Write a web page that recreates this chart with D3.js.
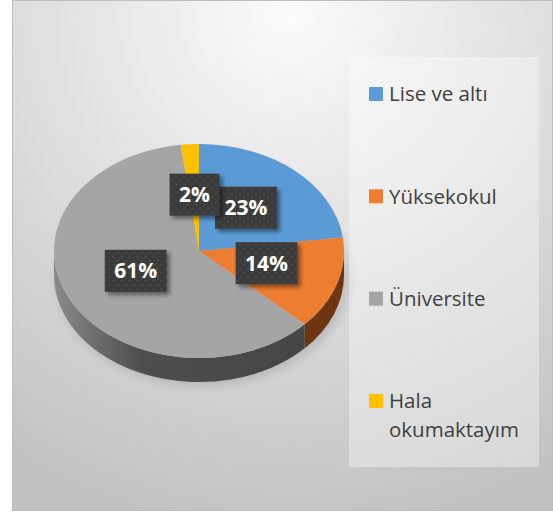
<!DOCTYPE html>
<html>
<head>
<meta charset="utf-8">
<script src="https://cdn.jsdelivr.net/npm/d3@7"></script>
<style>
  body { margin: 0; background: #fff; }
  svg { display: block; }
</style>
</head>
<body>
<div id="chart"></div>
<script>
// data
var categories = ["Lise ve altı", "Yüksekokul", "Üniversite", "Hala okumaktayım"];
var values = [23, 14, 61, 2];
var labels = ["23%", "14%", "61%", "2%"];
var colors = ["#5b9bd5", "#ed7d31", "#a5a5a5", "#ffc000"];
var sideColors = ["#2f5f8c", "#6e3510", "#555555", "#9a7400"];

var W = 553, H = 512;
var cx = 199, cy = 251, rx = 145, ry = 107, depth = 24;

var svg = d3.select("#chart").append("svg")
    .attr("width", W)
    .attr("height", H);

var defs = svg.append("defs");

// background gradient
var bg = defs.append("radialGradient")
    .attr("id", "bg")
    .attr("gradientUnits", "userSpaceOnUse")
    .attr("cx", 290).attr("cy", 10).attr("r", 520);
bg.append("stop").attr("offset", "0%").attr("stop-color", "#fbfbfb");
bg.append("stop").attr("offset", "100%").attr("stop-color", "#c2c2c2");

// gray side gradient
var sg = defs.append("linearGradient")
    .attr("id", "side")
    .attr("gradientUnits", "userSpaceOnUse")
    .attr("x1", cx - rx).attr("x2", cx + rx).attr("y1", 0).attr("y2", 0);
sg.append("stop").attr("offset", "0%").attr("stop-color", "#8a8a8a");
sg.append("stop").attr("offset", "30%").attr("stop-color", "#4e4e4e");
sg.append("stop").attr("offset", "100%").attr("stop-color", "#434343");

// dotted texture for the label boxes
var pat = defs.append("pattern")
    .attr("id", "dots")
    .attr("width", 8).attr("height", 8)
    .attr("patternUnits", "userSpaceOnUse");
pat.append("rect").attr("width", 8).attr("height", 8).attr("fill", "#3b3b3b");
pat.append("circle").attr("cx", 2).attr("cy", 2).attr("r", 1).attr("fill", "#4d4d4d");
pat.append("circle").attr("cx", 6).attr("cy", 6).attr("r", 1).attr("fill", "#4d4d4d");

var shadow = defs.append("filter").attr("id", "shadow")
    .attr("x", "-30%").attr("y", "-30%").attr("width", "160%").attr("height", "160%");
shadow.append("feDropShadow")
    .attr("dx", 3).attr("dy", 3).attr("stdDeviation", 2)
    .attr("flood-color", "#000").attr("flood-opacity", 0.45);

var pieShadow = defs.append("filter").attr("id", "pieShadow")
    .attr("x", "-20%").attr("y", "-20%").attr("width", "140%").attr("height", "140%");
pieShadow.append("feGaussianBlur").attr("stdDeviation", 5);

// chart area
svg.append("rect")
    .attr("x", 12.5).attr("y", 0.5)
    .attr("width", W - 13).attr("height", 510)
    .attr("fill", "url(#bg)")
    .attr("stroke", "#bdbdbd");

// soft shadow under the pie
svg.append("ellipse")
    .attr("cx", cx + 4).attr("cy", cy + depth + 2)
    .attr("rx", rx + 2).attr("ry", ry + 2)
    .attr("fill", "#000000").attr("opacity", 0.12)
    .attr("filter", "url(#pieShadow)");

var pie = d3.pie().sort(null).value(function(d) { return d; });
var arcs = pie(values);

function pt(a, dy) {
    return [cx + rx * Math.sin(a), cy - ry * Math.cos(a) + (dy || 0)];
}

// front walls
var sides = svg.append("g");
arcs.forEach(function(d, i) {
    var a0 = Math.max(d.startAngle, Math.PI / 2);
    var a1 = Math.min(d.endAngle, Math.PI * 3 / 2);
    if (a1 <= a0) return;
    var p0 = pt(a0), p1 = pt(a1), q1 = pt(a1, depth), q0 = pt(a0, depth);
    var large = (a1 - a0) > Math.PI ? 1 : 0;
    var path = "M" + p0 + " A" + rx + "," + ry + " 0 " + large + " 1 " + p1 +
        " L" + q1 + " A" + rx + "," + ry + " 0 " + large + " 0 " + q0 + " Z";
    sides.append("path")
        .attr("d", path)
        .attr("fill", i === 2 ? "url(#side)" : sideColors[i]);
});

// top faces
var arc = d3.arc().innerRadius(0).outerRadius(rx);
svg.append("g")
    .attr("transform", "translate(" + cx + "," + cy + ") scale(1," + (ry / rx) + ")")
  .selectAll("path")
  .data(arcs)
  .enter().append("path")
    .attr("d", arc)
    .attr("fill", function(d, i) { return colors[i]; });

// data labels
var lab = svg.append("g")
    .style("font-family", "'Open Sans', Lato, sans-serif")
    .style("font-weight", "bold")
    .style("font-size", "21px");

arcs.forEach(function(d, i) {
    var mid = (d.startAngle + d.endAngle) / 2;
    var lx = cx + rx * 0.49 * Math.sin(mid);
    var ly = cy - ry * 0.49 * Math.cos(mid) - 4;
    var g = lab.append("g").attr("transform", "translate(" + lx + "," + ly + ")");
    var rect = g.append("rect").attr("fill", "url(#dots)").attr("filter", "url(#shadow)");
    var t = g.append("text")
        .attr("text-anchor", "middle")
        .attr("dy", "0.36em")
        .attr("fill", "#ffffff")
        .text(labels[i]);
    var w = t.node().getComputedTextLength() + 19;
    rect.attr("x", -w / 2).attr("y", -21).attr("width", w).attr("height", 42);
});

// legend
svg.append("rect")
    .attr("x", 349).attr("y", 57)
    .attr("width", 190).attr("height", 410)
    .attr("fill", "#ffffff").attr("opacity", 0.35);

var ly = d3.scalePoint().domain(categories).range([94, 401]);
var leg = svg.append("g")
    .style("font-family", "'Open Sans', Lato, sans-serif")
    .style("font-size", "20.5px")
    .attr("fill", "#404040");

categories.forEach(function(c, i) {
    var y = ly(c);
    leg.append("rect")
        .attr("x", 369).attr("y", y - 7)
        .attr("width", 14).attr("height", 14)
        .attr("fill", colors[i]);
    var words = c === "Hala okumaktayım" ? ["Hala", "okumaktayım"] : [c];
    words.forEach(function(w, j) {
        leg.append("text")
            .attr("x", 389).attr("y", y + j * 29)
            .attr("dy", "0.35em")
            .text(w);
    });
});
</script>
</body>
</html>
